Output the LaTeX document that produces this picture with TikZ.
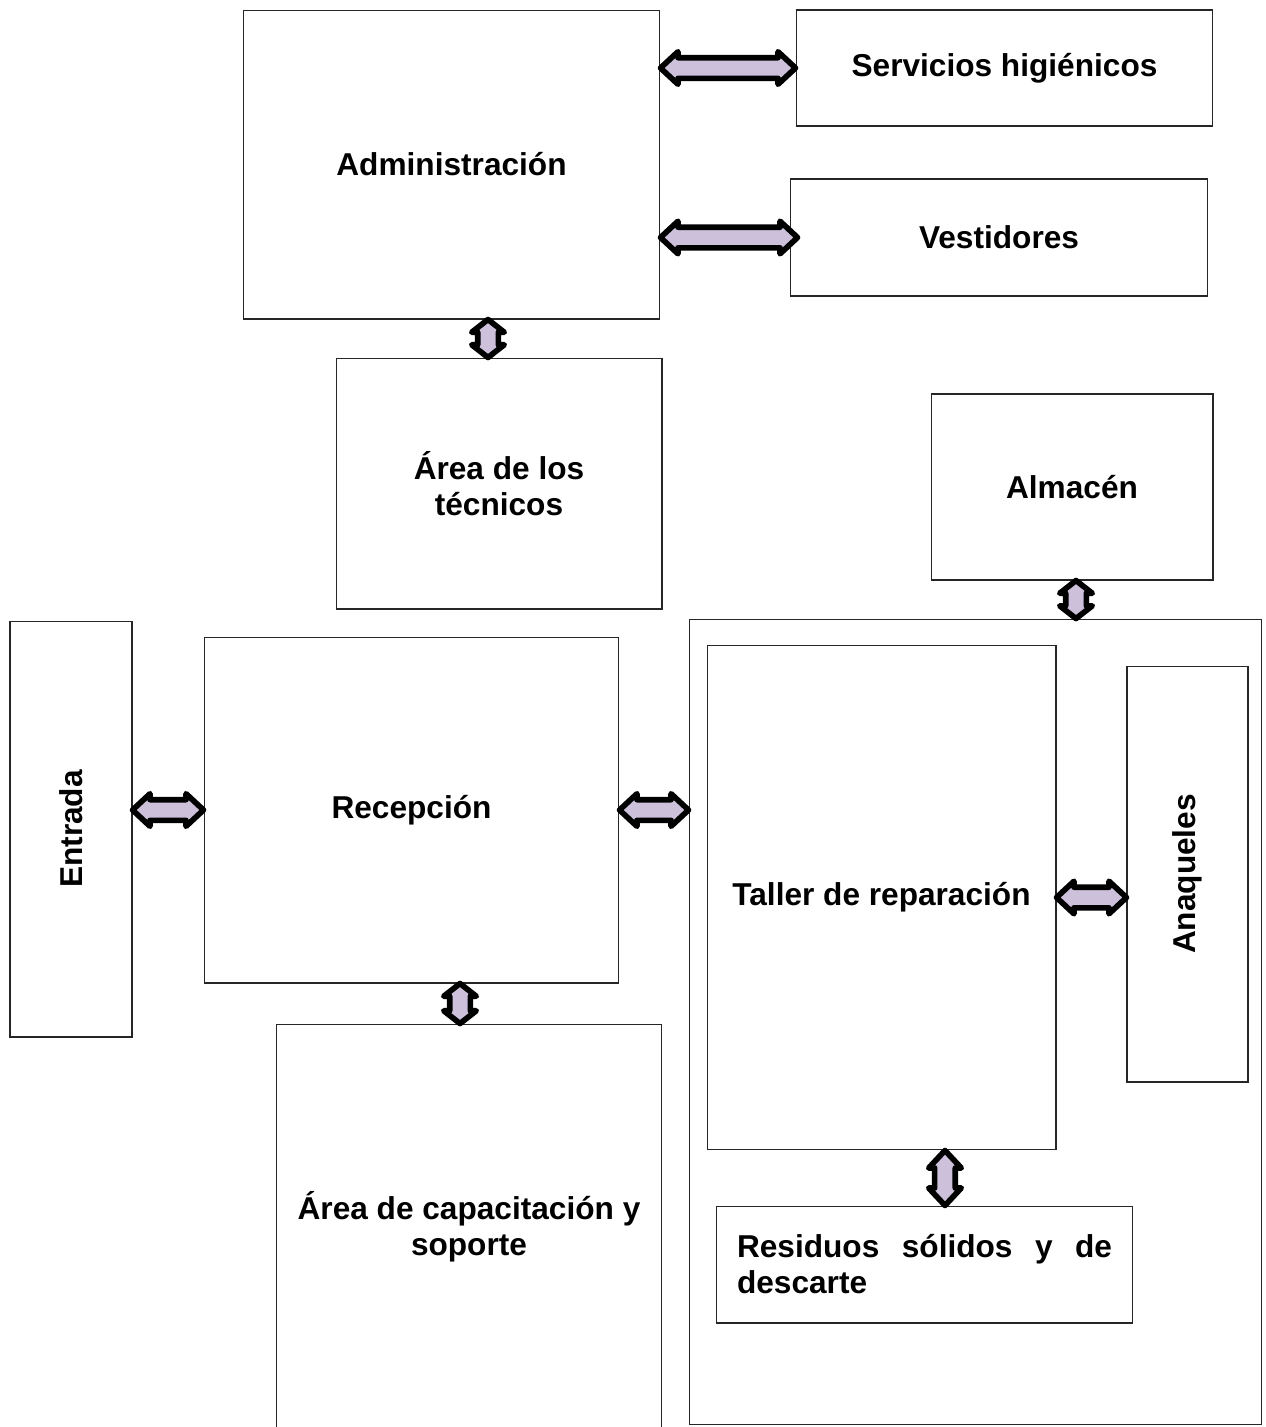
\documentclass[tikz,border=0pt]{standalone}
\usepackage{fontspec}
\setmainfont{Liberation Sans}
\usetikzlibrary{shapes.arrows, calc}
\definecolor{lavender}{HTML}{CCC0DA}

\begin{document}
\begin{tikzpicture}[x=0.02cm, y=-0.02cm,
    room/.style = {draw=black!85, line width=0.6pt, inner sep=0pt, align=center,
        font=\fontsize{18}{20.5}\selectfont\bfseries},
    link/.style = {double arrow, draw=black, fill=lavender, line width=3.2pt, line join=round,
        inner sep=0.15cm, double arrow head extend=0.12cm, double arrow tip angle=86},
    short/.style = {double arrow tip angle=104},
    conn/.style = {to path={let \p1=($(\tikztotarget)-(\tikztostart)$), \n1={veclen(\x1,\y1)} in
        (\tikztostart) -- (\tikztotarget) node[midway, sloped, link, #1, minimum height=\n1] {}}},
    conn/.default = {}]
    \useasboundingbox (0,0) rectangle (1265,1427);

    % rooms
    \node[room, minimum width=8.34cm, minimum height=6.18cm] (admin) at (451.5,164.5) {Administración};
    \node[room, minimum width=8.34cm, minimum height=2.32cm] (serv) at (1004.5,68) {Servicios higiénicos};
    \node[room, minimum width=8.36cm, minimum height=2.34cm] (vest) at (999,237.5) {Vestidores};
    \node[room, minimum width=6.52cm, minimum height=5.02cm] (tec) at (499,483.5) {Área de los\\técnicos};
    \node[room, minimum width=5.64cm, minimum height=3.72cm] (alm) at (1072,487) {Almacén};
    \node[room, minimum width=2.44cm, minimum height=8.32cm] (entrada) at (71,829) {\rotatebox{90}{Entrada}};
    \node[room, minimum width=8.30cm, minimum height=6.92cm] (rec) at (411.5,810) {Recepción};
    \node[room, minimum width=7.72cm, minimum height=8.12cm] (cap) at (469,1227) {Área de capacitación y\\soporte};
    \node[room, minimum width=11.46cm, minimum height=16.12cm] (zone) at (975.5,1022) {};
    \node[room, minimum width=6.98cm, minimum height=10.10cm] (taller) at (881.5,897.5) {Taller de reparación};
    \node[room, minimum width=2.42cm, minimum height=8.32cm] (anaq) at (1187.5,874) {\rotatebox{90}{Anaqueles}};
    \node[room, minimum width=8.34cm, minimum height=2.34cm, text width=7.5cm, align=justify] (res) at (924.5,1264.5)
        {Residuos sólidos y de\linebreak descarte};

    % connections
    \path (admin.east |- serv.west) edge[conn] (serv.west);
    \path (admin.east |- vest.west) edge[conn] ([xshift=0.16cm]vest.west);
    \path ([xshift=-0.22cm]tec.north |- admin.south) edge[conn=short] ([xshift=-0.22cm]tec.north);
    \path (entrada.east |- rec.west) edge[conn] (rec.west);
    \path (rec.east) edge[conn] (rec.east -| zone.west);
    \path ([xshift=-0.18cm]cap.north |- rec.south) edge[conn=short] ([xshift=-0.18cm]cap.north);
    \path ([xshift=0.08cm]alm.south) edge[conn=short] ([xshift=0.08cm]alm.south |- zone.north);
    \path (taller.east) edge[conn] (taller.east -| anaq.west);
    \path ([xshift=1.27cm]taller.south) edge[conn] ([xshift=1.27cm]taller.south |- res.north);
\end{tikzpicture}
\end{document}
